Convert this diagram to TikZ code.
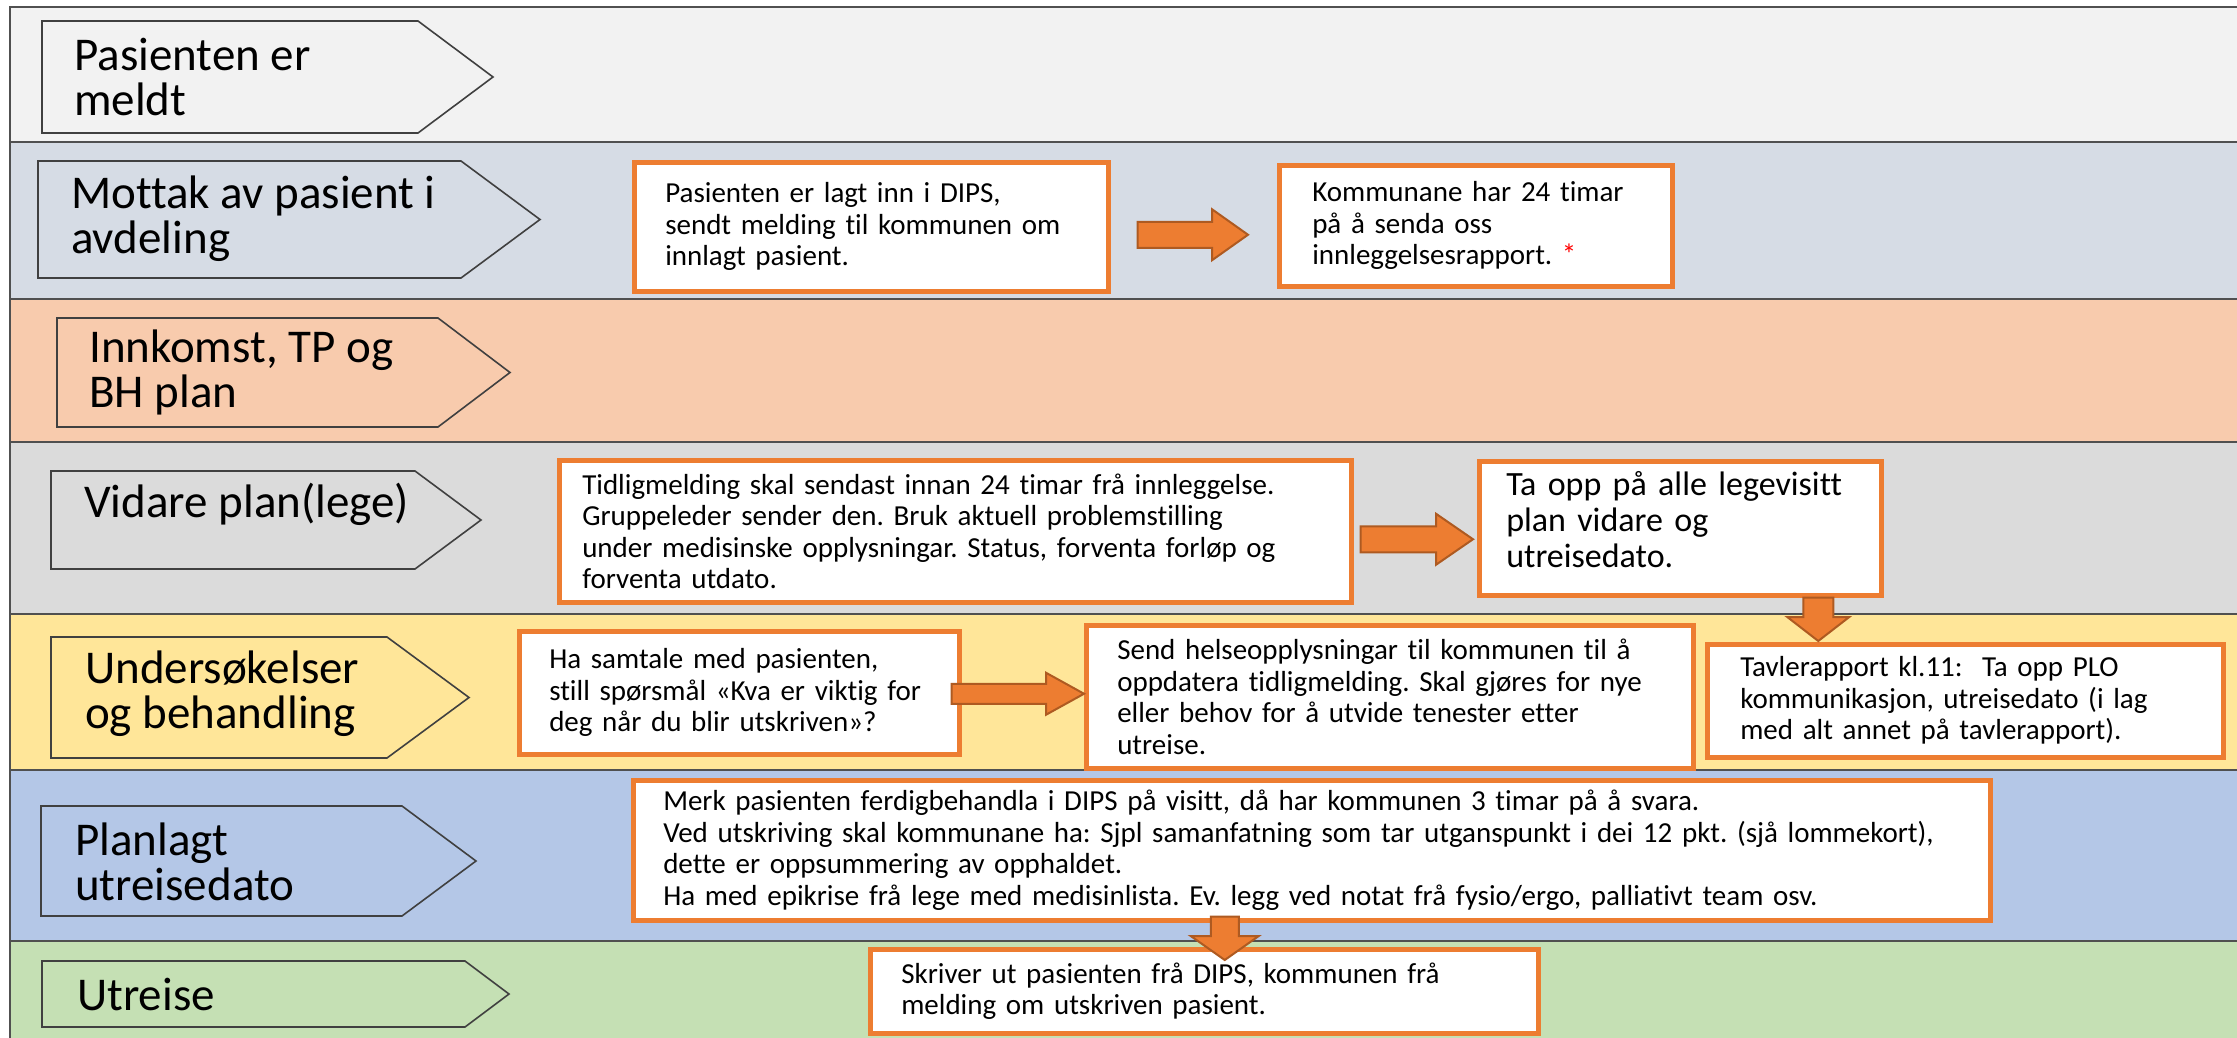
\documentclass[tikz,border=0pt]{standalone}
\usepackage{fontspec}
\setmainfont{Carlito}[Ligatures=NoCommon]
\usetikzlibrary{calc}
\definecolor{laneA}{HTML}{F2F2F2}
\definecolor{laneB}{HTML}{D6DCE5}
\definecolor{laneC}{HTML}{F8CBAD}
\definecolor{laneD}{HTML}{DBDBDB}
\definecolor{laneE}{HTML}{FFE699}
\definecolor{laneF}{HTML}{B4C7E7}
\definecolor{laneG}{HTML}{C5E0B4}
\definecolor{orangeB}{HTML}{ED7D31}
\definecolor{orangeD}{HTML}{AE5A21}
\definecolor{edgeG}{HTML}{505050}
\definecolor{chevG}{HTML}{404040}
\newcommand\harrow[5]{\draw[barrow] let \p1=(#1), \p2=(#2) in (\x1,\y1+#3) -- (\x2-#5,\y1+#3) -- (\x2-#5,\y1+#4) -- (\x2,\y1) -- (\x2-#5,\y1-#4) -- (\x2-#5,\y1-#3) -- (\x1,\y1-#3) -- cycle;}
\newcommand\varrow[5]{\draw[barrow] let \p1=(#1), \p2=(#2) in (\x1-#3,\y1) -- (\x1-#3,\y2+#5) -- (\x1-#4,\y2+#5) -- (\x1,\y2) -- (\x1+#4,\y2+#5) -- (\x1+#3,\y2+#5) -- (\x1+#3,\y1) -- cycle;}
\frenchspacing
\begin{document}
\begin{tikzpicture}[x=1pt,y=-1pt,
 lane/.style={draw=edgeG, line width=2pt},
 chev/.style={draw=chevG, line width=1.6pt, line join=miter},
 chevtext/.style={anchor=west, align=left, inner sep=0pt, font=\fontsize{47}{45}\selectfont, text=black},
 obox/.style={draw=orangeB, line width=4.5pt, fill=white, anchor=north west, align=left, inner ysep=0pt, text=black, font=\fontsize{29}{31.5}\selectfont},
 bigtext/.style={font=\fontsize{34}{36}\selectfont},
 barrow/.style={fill=orangeB, draw=orangeD, line width=2pt, line join=miter},
]
\useasboundingbox (0,0) rectangle (2237,1038);
% lanes
\fill[laneA] (10,7) rectangle (2237,142);
\fill[laneB] (10,142) rectangle (2237,299);
\fill[laneC] (10,299) rectangle (2237,442);
\fill[laneD] (10,442) rectangle (2237,614);
\fill[laneE] (10,614) rectangle (2237,770);
\fill[laneF] (10,770) rectangle (2237,941);
\fill[laneG] (10,941) rectangle (2237,1038);
\draw[lane] (2237,7) -- (10,7) -- (10,1038);
\foreach \yy in {142,299,442,614,770,941} \draw[lane] (10,\yy) -- (2237,\yy);
% chevrons
\draw[chev, fill=laneA] (42,21) -- (418,21) -- (493,77) -- (418,133) -- (42,133) -- cycle;
\draw[chev, fill=laneB] (38,161) -- (461,161) -- (540,219.5) -- (461,278) -- (38,278) -- cycle;
\draw[chev, fill=laneC] (57,318) -- (438,318) -- (510,372.5) -- (438,427) -- (57,427) -- cycle;
\draw[chev, fill=laneD] (51,471) -- (415,471) -- (481,520) -- (415,569) -- (51,569) -- cycle;
\draw[chev, fill=laneE] (51,637) -- (387,637) -- (469,697.5) -- (387,758) -- (51,758) -- cycle;
\draw[chev, fill=laneF] (41,806) -- (402,806) -- (476,861) -- (402,916) -- (41,916) -- cycle;
\draw[chev, fill=laneG] (42,961) -- (465,961) -- (509,994) -- (465,1027) -- (42,1027) -- cycle;
\node[chevtext] (t1) at (74,77) {Pasienten er\\meldt};
\node[chevtext] (t2) at (71,219) {Mottak av pasient i\\avdeling};
\node[chevtext] (t3) at (89,372) {Innkomst, TP og\\BH plan};
\node[chevtext] (t4) at (84,504) {Vidare plan(lege)};
\node[chevtext] (t5) at (85,694) {Undersøkelser\\og behandling};
\node[chevtext] (t6) at (75,862) {Planlagt\\utreisedato};
\node[chevtext] (t7) at (77,994) {Utreise};
% boxes
\node[obox, minimum width=474pt, minimum height=129pt, inner xsep=31pt, text width=412pt] (A) at (632,160)
 {\mbox{Pasienten er lagt inn i DIPS,}\\\mbox{sendt melding til kommunen om}\\\mbox{innlagt pasient.}};
\node[obox, minimum width=393pt, minimum height=121pt, inner xsep=33pt, text width=327pt] (B) at (1277,163)
 {\mbox{Kommunane har 24 timar}\\\mbox{på å senda oss}\\\mbox{innleggelsesrapport. {\color{red}*}}};
\node[obox, minimum width=792pt, minimum height=142pt, inner xsep=23pt, text width=746pt] (C) at (557,458)
 {\mbox{Tidligmelding skal sendast innan 24 timar frå innleggelse.}\\\mbox{Gruppeleder sender den. Bruk aktuell problemstilling}\\\mbox{under medisinske opplysningar. Status, forventa forløp og}\\\mbox{forventa utdato.}};
\node[obox, bigtext, minimum width=402pt, minimum height=134pt, inner xsep=27pt, text width=348pt] (D) at (1477,459)
 {\mbox{Ta opp på alle legevisitt}\\\mbox{plan vidare og}\\\mbox{utreisedato.}\rule[-17pt]{0pt}{1pt}};
\node[obox, minimum width=440pt, minimum height=123pt, inner xsep=30pt, text width=380pt] (E) at (517,629)
 {\mbox{Ha samtale med pasienten,}\\\mbox{still spørsmål «Kva er viktig for}\\\mbox{deg når du blir utskriven»?}};
\node[obox, minimum width=607pt, minimum height=143pt, inner xsep=31pt, text width=545pt] (F) at (1084,623)
 {\mbox{Send helseopplysningar til kommunen til å}\\\mbox{oppdatera tidligmelding. Skal gjøres for nye}\\\mbox{eller behov for å utvide tenester etter}\\\mbox{utreise.}};
\node[obox, minimum width=516pt, minimum height=113pt, inner xsep=33pt, text width=450pt] (G) at (1705,642)
 {\mbox{Tavlerapport kl.11:\ \ Ta opp PLO}\\\mbox{kommunikasjon, utreisedato (i lag}\\\mbox{med alt annet på tavlerapport).}};
\node[obox, minimum width=1357pt, minimum height=140pt, inner xsep=30pt, text width=1297pt] (H) at (631,778)
 {\mbox{Merk pasienten ferdigbehandla i DIPS på visitt, då har kommunen 3 timar på å svara.}\\\mbox{Ved utskriving skal kommunane ha: Sjpl samanfatning som tar utganspunkt i dei 12 pkt. (sjå lommekort),}\\\mbox{dette er oppsummering av opphaldet.}\\\mbox{Ha med epikrise frå lege med medisinlista. Ev. legg ved notat frå fysio/ergo, palliativt team osv.}};
\node[obox, minimum width=668pt, minimum height=84pt, inner xsep=31pt, text width=606pt] (I) at (868,947)
 {\mbox{Skriver ut pasienten frå DIPS, kommunen frå}\\\mbox{melding om utskriven pasient.}};
% block arrows
\harrow{[xshift=27pt,yshift=-8pt]A.east}{[xshift=-29pt]B.west}{13pt}{25.5pt}{36pt}
\harrow{[xshift=7pt,yshift=-8pt]C.east}{[xshift=-4pt]D.west}{13pt}{25.5pt}{37pt}
\harrow{[xshift=-10pt,yshift=-1pt]E.east}{F.west}{10pt}{21pt}{38pt}
\varrow{[xshift=138pt]D.south}{[yshift=1pt]G.north}{15pt}{31pt}{24pt}
\varrow{[xshift=-87pt,yshift=6pt]H.south}{[yshift=-13pt]I.north}{14pt}{34pt}{24pt}
\end{tikzpicture}
\end{document}
